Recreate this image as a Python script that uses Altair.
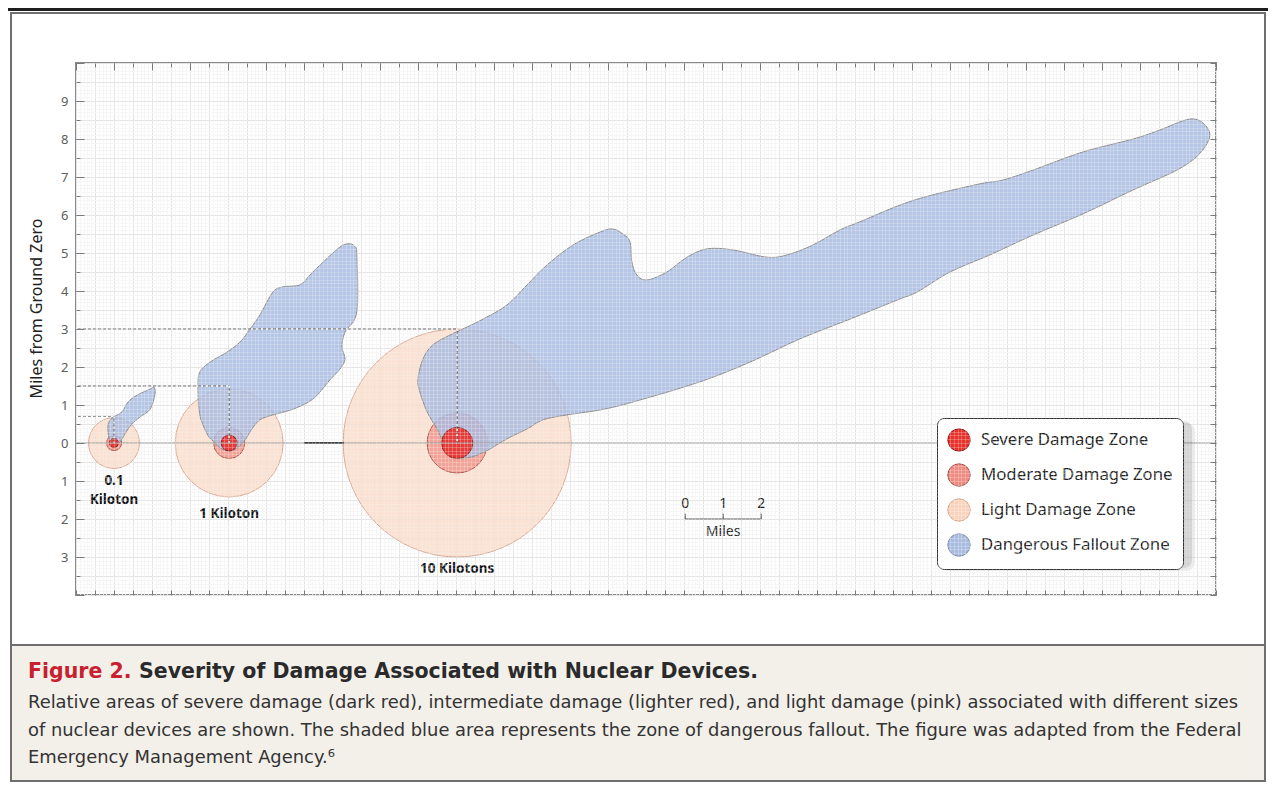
import altair as alt
import pandas as pd

FONT = "Noto Sans"
CAP_FONT = "DejaVu Sans"

# ---------------- data ----------------
zones = ["Severe Damage Zone", "Moderate Damage Zone", "Light Damage Zone", "Dangerous Fallout Zone"]
zone_fill = ["#e9312b", "#ef8a80", "#f9d3bb", "#a9bce0"]
zone_stroke = ["#8e1d1d", "#a84a45", "#d4a28c", "#7d8aa8"]

devices = ["0.1 Kiloton", "1 Kiloton", "10 Kilotons"]
device_labels = ["0.1\nKiloton", "1 Kiloton", "10 Kilotons"]
center_x = [1.0, 4.03, 10.03]
severe_r = [0.12, 0.21, 0.41]
moderate_r = [0.2, 0.41, 0.79]
light_r = [0.67, 1.42, 3.0]
lead_y = [0.7, 1.5, 3.0]
label_y = [-1.0, -1.87, -3.32]

plume_small_x = [0.89, 0.84, 0.92, 1.21, 1.37, 1.61, 1.95, 2.05, 2.08, 1.95, 1.68, 1.47, 1.29, 1.16, 1.0]
plume_small_y = [0.03, 0.42, 0.63, 0.82, 1.08, 1.26, 1.42, 1.47, 1.29, 0.89, 0.68, 0.50, 0.24, 0.03, -0.08]

plume_mid_x = [3.26, 3.53, 3.97, 4.32, 4.58, 4.84, 5.18, 5.45, 5.89, 6.16, 6.42, 6.95, 7.21, 7.34,
               7.39, 7.39, 7.08, 7.0, 7.08, 6.95, 6.68, 6.24, 5.71, 5.18, 4.84, 4.63, 4.45, 4.24,
               4.03, 3.79, 3.58, 3.45, 3.26, 3.21]
plume_mid_y = [1.87, 2.13, 2.39, 2.66, 3.0, 3.37, 3.97, 4.11, 4.16, 4.42, 4.68, 5.16, 5.24, 5.16,
               4.95, 3.45, 2.92, 2.53, 2.21, 1.95, 1.66, 1.16, 0.89, 0.74, 0.61, 0.37, 0.08, -0.13,
               -0.21, -0.13, 0.08, 0.24, 0.74, 1.47]

plume_large_x = [9.66, 9.50, 9.24, 9.05, 9.00, 9.13, 9.39, 9.84, 10.18, 10.71, 11.34, 11.87, 12.39,
                 13.08, 13.79, 14.13, 14.39, 14.58, 14.63, 14.76, 15.03, 15.55, 16.08, 16.61, 17.29,
                 18.18, 18.71, 19.39, 20.11, 20.63, 21.68, 22.55, 23.79, 24.39, 25.18, 26.50, 27.82,
                 28.53, 29.05, 29.39, 29.66, 29.84, 29.71, 29.39, 28.87, 27.82, 26.50, 25.18, 24.05,
                 23.0, 22.13, 21.68, 20.37, 19.05, 17.74, 16.42, 14.66, 13.79, 12.92, 12.29, 11.87,
                 11.34, 10.89, 10.55, 10.29, 10.03, 9.79]
plume_large_y = [0.03, 0.37, 0.82, 1.34, 1.68, 2.21, 2.58, 2.84, 3.0, 3.26, 3.63, 4.16, 4.68,
                 5.21, 5.55, 5.63, 5.50, 5.29, 4.76, 4.42, 4.29, 4.50, 4.89, 5.11, 5.08,
                 4.89, 4.95, 5.21, 5.61, 5.82, 6.26, 6.53, 6.82, 6.92, 7.18, 7.66, 8.0,
                 8.24, 8.45, 8.53, 8.42, 8.13, 7.79, 7.45, 7.13, 6.66, 6.03, 5.47, 4.95,
                 4.5, 3.97, 3.79, 3.26, 2.74, 2.13, 1.61, 1.08, 0.87, 0.74, 0.61, 0.37,
                 0.11, -0.16, -0.32, -0.39, -0.39, -0.24]

zero_line = [0.0, 30.0]
zero_dark = [6.0, 7.05]
scale_start = 16.03
scale_ticks = [0, 1, 2]
scale_label = "Miles"

y_title = "Miles from Ground Zero"
caption_fig = "Figure 2."
caption_head = "Severity of Damage Associated with Nuclear Devices."
caption_body = [
    "Relative areas of severe damage (dark red), intermediate damage (lighter red), and light damage (pink) associated with different sizes",
    "of nuclear devices are shown. The shaded blue area represents the zone of dangerous fallout. The figure was adapted from the Federal",
    "Emergency Management Agency.\u2076",
]

# ---------------- tables ----------------
rows = []
for i, d in enumerate(devices):
    rows.append({"device": d, "zone": zones[2], "x": center_x[i], "y": 0.0, "r": light_r[i]})
    rows.append({"device": d, "zone": zones[1], "x": center_x[i], "y": 0.0, "r": moderate_r[i]})
    rows.append({"device": d, "zone": zones[0], "x": center_x[i], "y": 0.0, "r": severe_r[i]})
circles = pd.DataFrame(rows)

prow = []
for name, xs, ys in [("small", plume_small_x, plume_small_y),
                     ("mid", plume_mid_x, plume_mid_y),
                     ("large", plume_large_x, plume_large_y)]:
    for k, (a, b) in enumerate(zip(xs, ys)):
        prow.append({"plume": name, "i": k, "x": a, "y": b})
plumes = pd.DataFrame(prow)

lead = []
for i in range(len(devices)):
    lead.append({"x": 0.0, "x2": center_x[i], "y": lead_y[i], "y2": lead_y[i]})
    lead.append({"x": center_x[i], "x2": center_x[i], "y": lead_y[i], "y2": 0.0})
lead = pd.DataFrame(lead)

labels = pd.DataFrame({"x": center_x, "y": label_y, "t": device_labels})

zero_df = pd.DataFrame({"x": [zero_line[0]], "x2": [zero_line[1]], "y": [0.0]})
zero_dark_df = pd.DataFrame({"x": [zero_dark[0]], "x2": [zero_dark[1]], "y": [0.0]})

sb_bar = pd.DataFrame({"x": [scale_start + scale_ticks[0]], "x2": [scale_start + scale_ticks[-1]], "y": [-2.0]})
sb_ticks = pd.DataFrame({"x": [scale_start + t for t in scale_ticks], "y": [-2.0] * 3, "y2": [-1.86] * 3,
                         "t": [str(t) for t in scale_ticks]})
sb_lab = pd.DataFrame({"x": [scale_start + 1], "y": [-2.33], "t": [scale_label]})

# ---------------- scales ----------------
XS = alt.Scale(domain=[0, 30], nice=False, zero=False)
YS = alt.Scale(domain=[-4, 10], nice=False, zero=False)
SZ = alt.Scale(type="pow", exponent=2, domain=[0, 3], range=[0, 51984])

xfine = [round(i * 0.1, 1) for i in range(301)]
yfine = [round(-4 + i * 0.1, 1) for i in range(141)]
xhalf = [i * 0.5 for i in range(61)]
yhalf = [-4 + i * 0.5 for i in range(29)]
xint = list(range(31))
yint = list(range(-4, 11))

dummy = pd.DataFrame({"x": [0.0], "y": [0.0]})


def axis_layer(xa, ya):
    return alt.Chart(dummy).mark_point(opacity=0).encode(
        x=alt.X("x:Q", scale=XS, axis=xa),
        y=alt.Y("y:Q", scale=YS, axis=ya),
    )


def bare(orient, values, **kw):
    base = dict(orient=orient, values=values, grid=False, ticks=False, labels=False,
                domain=False, title=None)
    base.update(kw)
    return alt.Axis(**base)


TICK = "#7a7a7a"
ax1 = axis_layer(bare("bottom", xfine, grid=True, gridColor="#efefef", gridWidth=0.7),
                 bare("left", yfine, grid=True, gridColor="#efefef", gridWidth=0.7))
ax2 = axis_layer(
    bare("bottom", xhalf, grid=True, gridColor="#dcdcdc", gridWidth=1),
    alt.Axis(orient="left", values=yhalf, grid=True, gridColor="#dcdcdc", gridWidth=1,
             ticks=False, domain=False, labels=True,
             labelExpr="(datum.value % 1 != 0 || datum.value == 10 || datum.value == -4) ? '' : format(abs(datum.value), 'd')",
             labelFont=FONT, labelFontSize=13, labelColor="#5c5c5c", labelPadding=8,
             labelOverlap=False, labelFlush=False,
             title=y_title, titleFont=FONT, titleFontSize=16, titleFontWeight="normal",
             titleColor="#222222", titleX=-40, titleY=245, titleAngle=270,
             titleAlign="center", titleBaseline="middle"),
)
ax3 = axis_layer(bare("bottom", xhalf, ticks=True, tickSize=5, offset=-5, tickColor=TICK, zindex=2),
                 bare("left", yint, ticks=True, tickSize=8, offset=-8, tickColor=TICK, zindex=2))
ax4 = axis_layer(bare("top", xint, ticks=True, tickSize=7, offset=-7, tickColor=TICK, zindex=2),
                 bare("left", yhalf, ticks=True, tickSize=4, offset=-4, tickColor=TICK, zindex=2))
ax5 = axis_layer(bare("top", xhalf, ticks=True, tickSize=4, offset=-4, tickColor=TICK, zindex=2),
                 bare("right", yhalf, ticks=True, tickSize=6, offset=-6, tickColor=TICK, zindex=2))
ax6 = axis_layer(bare("bottom", xfine, grid=True, gridColor="#ffffff", gridOpacity=0.3, gridWidth=0.8, zindex=1),
                 bare("left", yfine, grid=True, gridColor="#ffffff", gridOpacity=0.3, gridWidth=0.8, zindex=1))

LEG = alt.Legend(title=None, orient="none", legendX=861, legendY=355, symbolType="circle",
                 symbolSize=500, symbolStrokeWidth=1, symbolOpacity=1, labelFont=FONT,
                 labelFontSize=16.8, labelColor="#222222", labelOffset=10, rowPadding=7,
                 padding=10, fillColor="#ffffff", strokeColor="#333333", cornerRadius=7,
                 labelLimit=300)


def circle_layer(zone, op):
    return alt.Chart(circles).transform_filter(alt.datum.zone == zone).mark_point(
        filled=True, shape="circle", fillOpacity=op, strokeWidth=1, strokeOpacity=0.9
    ).encode(
        x=alt.X("x:Q", scale=XS, axis=None),
        y=alt.Y("y:Q", scale=YS, axis=None),
        size=alt.Size("r:Q", scale=SZ, legend=None),
        fill=alt.Fill("zone:N", scale=alt.Scale(domain=zones, range=zone_fill), legend=LEG),
        stroke=alt.Stroke("zone:N", scale=alt.Scale(domain=zones, range=zone_stroke), legend=LEG),
    )


light = circle_layer(zones[2], 0.65)
moderate = circle_layer(zones[1], 0.72)
severe = circle_layer(zones[0], 0.92)

plume = alt.Chart(plumes).mark_line(
    interpolate="cardinal-closed", fill="#a6bae0", fillOpacity=0.82, stroke="#8c8c8c", strokeWidth=1
).encode(
    x=alt.X("x:Q", scale=XS, axis=None),
    y=alt.Y("y:Q", scale=YS, axis=None),
    detail="plume:N",
    order="i:Q",
)

lead_base = alt.Chart(lead).mark_rule(color="#5e5e5e", strokeWidth=1).encode(
    x=alt.X("x:Q", scale=XS, axis=None), x2="x2:Q",
    y=alt.Y("y:Q", scale=YS, axis=None), y2="y2:Q")
lead_dash = alt.Chart(lead).mark_rule(color="#ffffff", strokeWidth=1.3, strokeDash=[2, 3]).encode(
    x=alt.X("x:Q", scale=XS, axis=None), x2="x2:Q",
    y=alt.Y("y:Q", scale=YS, axis=None), y2="y2:Q")

zero = alt.Chart(zero_df).mark_rule(color="#9a9a9a", strokeWidth=1.2).encode(
    x=alt.X("x:Q", scale=XS, axis=None), x2="x2:Q", y=alt.Y("y:Q", scale=YS, axis=None))
zero_d = alt.Chart(zero_dark_df).mark_rule(color="#444444", strokeWidth=2).encode(
    x=alt.X("x:Q", scale=XS, axis=None), x2="x2:Q", y=alt.Y("y:Q", scale=YS, axis=None))

dev_text = alt.Chart(labels).mark_text(font=FONT, fontSize=13.5, fontWeight="bold", color="#111111",
                                       lineBreak="\n", lineHeight=19).encode(
    x=alt.X("x:Q", scale=XS, axis=None), y=alt.Y("y:Q", scale=YS, axis=None), text="t:N")

sb1 = alt.Chart(sb_bar).mark_rule(color="#555555", strokeWidth=1.2).encode(
    x=alt.X("x:Q", scale=XS, axis=None), x2="x2:Q", y=alt.Y("y:Q", scale=YS, axis=None))
sb2 = alt.Chart(sb_ticks).mark_rule(color="#555555", strokeWidth=1.2).encode(
    x=alt.X("x:Q", scale=XS, axis=None), y=alt.Y("y:Q", scale=YS, axis=None), y2="y2:Q")
sb3 = alt.Chart(sb_ticks).mark_text(font=FONT, fontSize=14, color="#222222", baseline="bottom", dy=-3).encode(
    x=alt.X("x:Q", scale=XS, axis=None), y=alt.Y("y2:Q", scale=YS, axis=None), text="t:N")
sb4 = alt.Chart(sb_lab).mark_text(font=FONT, fontSize=14, color="#222222").encode(
    x=alt.X("x:Q", scale=XS, axis=None), y=alt.Y("y:Q", scale=YS, axis=None), text="t:N")

# legend drop shadow
shadow1 = alt.Chart(dummy).mark_rect(color="#000000", opacity=0.10, cornerRadius=8).encode(
    x=alt.value(863), x2=alt.value(1116), y=alt.value(358), y2=alt.value(505))
shadow2 = alt.Chart(dummy).mark_rect(color="#000000", opacity=0.07, cornerRadius=9).encode(
    x=alt.value(865), x2=alt.value(1119), y=alt.value(360), y2=alt.value(508))

# page decorations (outside plot)
top_bar = alt.Chart(dummy).mark_rect(color="#1e1e1e").encode(
    x=alt.value(-68), x2=alt.value(1192), y=alt.value(-55), y2=alt.value(-52))
panel = alt.Chart(dummy).mark_rect(color="#f3f0ea").encode(
    x=alt.value(-65), x2=alt.value(1189), y=alt.value(582), y2=alt.value(718))
divider = alt.Chart(dummy).mark_rule(color="#6f6f6f", strokeWidth=2).encode(
    x=alt.value(-65), x2=alt.value(1189), y=alt.value(582))
frame = alt.Chart(dummy).mark_rect(fillOpacity=0, stroke="#6f6f6f", strokeWidth=2).encode(
    x=alt.value(-65), x2=alt.value(1189), y=alt.value(-50), y2=alt.value(718))

cap_fig = alt.Chart(pd.DataFrame({"t": [caption_fig]})).mark_text(
    font=CAP_FONT, fontSize=20.5, fontWeight="bold", color="#c8202f", align="left", baseline="middle"
).encode(x=alt.value(-48), y=alt.value(609), text="t:N")
cap_head = alt.Chart(pd.DataFrame({"t": [caption_head]})).mark_text(
    font=CAP_FONT, fontSize=20.5, fontWeight="bold", color="#2a2a2a", align="left", baseline="middle"
).encode(x=alt.value(63), y=alt.value(609), text="t:N")
body_layers = []
for k, line in enumerate(caption_body):
    body_layers.append(alt.Chart(pd.DataFrame({"t": [line]})).mark_text(
        font=CAP_FONT, fontSize=17.9, color="#333333", align="left", baseline="middle"
    ).encode(x=alt.value(-48), y=alt.value(640 + 27.5 * k), text="t:N"))

chart = alt.layer(
    panel, divider, frame, top_bar,
    ax1, ax2, ax3, ax4, ax5, ax6,
    light, moderate, plume, severe,
    lead_base, lead_dash, zero, zero_d,
    dev_text, sb1, sb2, sb3, sb4,
    shadow1, shadow2,
    cap_fig, cap_head, *body_layers,
).resolve_axis(x="independent", y="independent").properties(
    width=1140, height=532,
    autosize=alt.AutoSizeParams(type="none"),
    padding={"left": 68, "top": 55, "right": 52, "bottom": 187},
    background="#ffffff",
).configure_view(stroke="#8a8a8a", strokeWidth=2)

chart.save("out.html", embed_options={"renderer": "svg", "actions": False})
